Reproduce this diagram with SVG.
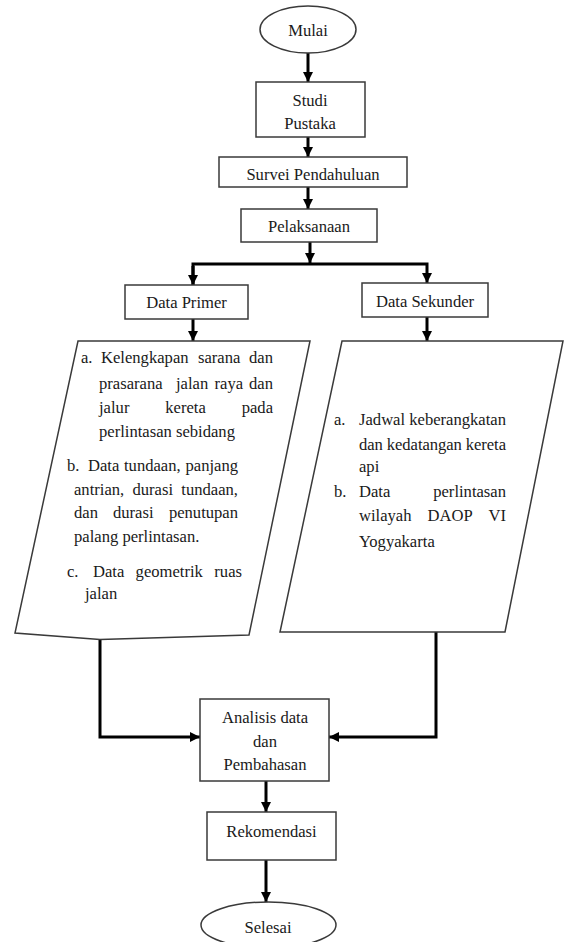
<svg xmlns="http://www.w3.org/2000/svg" width="564" height="942" viewBox="0 0 564 942">
<defs>
<style>
.shape{fill:#fff;stroke:#3a3a3a;stroke-width:1.5}
.t{font-family:'Liberation Serif','Times New Roman',serif;font-size:16.6px;fill:#1a1a1a}
.c{text-anchor:middle}
.e{text-anchor:end}
.conn{fill:none;stroke:#000;stroke-width:3}
</style>
<marker id="ah" viewBox="0 0 10 10" refX="10" refY="5" markerWidth="3.4" markerHeight="3.4" orient="auto" markerUnits="strokeWidth">
<path d="M0,0 L10,5 L0,10 z" fill="#000"/>
</marker>
</defs>
<rect width="564" height="942" fill="#fff"/>

<g id="connectors">
<line class="conn" x1="308" y1="53" x2="308" y2="82" marker-end="url(#ah)"/>
<line class="conn" x1="308" y1="137" x2="308" y2="157" marker-end="url(#ah)"/>
<line class="conn" x1="308" y1="187" x2="308" y2="209" marker-end="url(#ah)"/>
<line class="conn" x1="310" y1="242" x2="310" y2="263" marker-end="url(#ah)"/>
<polyline class="conn" points="193,285 193,264 427,264 427,283" marker-end="url(#ah)"/>
<line class="conn" x1="193" y1="266" x2="193" y2="285" marker-end="url(#ah)"/>
<line class="conn" x1="193" y1="319" x2="193" y2="341" marker-end="url(#ah)"/>
<line class="conn" x1="427" y1="317" x2="427" y2="341" marker-end="url(#ah)"/>
<polyline class="conn" points="100,639 100,737 200,737" marker-end="url(#ah)"/>
<polyline class="conn" points="436,632 436,737 329,737" marker-end="url(#ah)"/>
<line class="conn" x1="266" y1="781" x2="266" y2="812" marker-end="url(#ah)"/>
<line class="conn" x1="266" y1="860" x2="266" y2="902" marker-end="url(#ah)"/>
</g>

<g id="mulai">
<ellipse class="shape" cx="308" cy="29.5" rx="48" ry="23.5"/>
<text class="t c" x="308" y="36">Mulai</text>
</g>

<g id="studi-pustaka">
<rect class="shape" x="256" y="82" width="109" height="55"/>
<text class="t c" x="310" y="106">Studi</text>
<text class="t c" x="310" y="129">Pustaka</text>
</g>

<g id="survei">
<rect class="shape" x="219" y="157" width="188" height="30"/>
<text class="t c" x="313" y="180">Survei Pendahuluan</text>
</g>

<g id="pelaksanaan">
<rect class="shape" x="241" y="209" width="136" height="33"/>
<text class="t c" x="309" y="232">Pelaksanaan</text>
</g>

<g id="data-primer">
<rect class="shape" x="125" y="285" width="123" height="34"/>
<text class="t c" x="186.5" y="308">Data Primer</text>
</g>

<g id="data-sekunder">
<rect class="shape" x="362" y="283" width="126" height="34"/>
<text class="t c" x="425" y="307">Data Sekunder</text>
</g>

<g id="primer-list">
<polygon class="shape" points="78,341 310,341 249,635 100,639.5 15,633"/>
<text class="t" y="363"><tspan x="81">a.</tspan><tspan x="101">Kelengkapan</tspan><tspan x="198">sarana</tspan></text>
<text class="t e" x="273" y="363">dan</text>
<text class="t" y="389"><tspan x="99">prasarana</tspan><tspan x="176">jalan</tspan><tspan x="214.5">raya</tspan></text>
<text class="t e" x="273" y="389">dan</text>
<text class="t" y="413"><tspan x="99">jalur</tspan><tspan x="165.3">kereta</tspan></text>
<text class="t e" x="273" y="413">pada</text>
<text class="t" x="99" y="437">perlintasan sebidang</text>
<text class="t" y="471"><tspan x="67">b.</tspan><tspan x="88">Data</tspan><tspan x="124">tundaan,</tspan></text>
<text class="t e" x="238" y="471">panjang</text>
<text class="t" y="495"><tspan x="74">antrian,</tspan><tspan x="132.5">durasi</tspan></text>
<text class="t e" x="238" y="495">tundaan,</text>
<text class="t" y="518"><tspan x="74">dan</tspan><tspan x="113">durasi</tspan></text>
<text class="t e" x="238" y="518">penutupan</text>
<text class="t" x="74" y="542">palang perlintasan.</text>
<text class="t" y="577"><tspan x="67">c.</tspan><tspan x="93">Data</tspan><tspan x="135.6">geometrik</tspan></text>
<text class="t e" x="242" y="577">ruas</text>
<text class="t" x="85" y="599">jalan</text>
</g>

<g id="sekunder-list">
<polygon class="shape" points="342,341 563,341 505,632 280,632"/>
<text class="t" x="334" y="425">a.</text>
<text class="t" x="359" y="425" textLength="147" lengthAdjust="spacing">Jadwal keberangkatan</text>
<text class="t" x="359" y="450" textLength="147" lengthAdjust="spacing">dan kedatangan kereta</text>
<text class="t" x="359" y="472">api</text>
<text class="t" x="334" y="497">b.</text>
<text class="t" x="359" y="497">Data</text>
<text class="t e" x="506" y="497">perlintasan</text>
<text class="t" y="521"><tspan x="359">wilayah</tspan><tspan x="427.5">DAOP</tspan></text>
<text class="t e" x="506" y="521">VI</text>
<text class="t" x="359" y="547">Yogyakarta</text>
</g>

<g id="analisis">
<rect class="shape" x="200" y="699" width="129" height="82"/>
<text class="t c" x="265" y="723">Analisis data</text>
<text class="t c" x="265" y="747">dan</text>
<text class="t c" x="265" y="770">Pembahasan</text>
</g>

<g id="rekomendasi">
<rect class="shape" x="207" y="812" width="129" height="48"/>
<text class="t c" x="271.5" y="837">Rekomendasi</text>
</g>

<g id="selesai">
<ellipse class="shape" cx="268.5" cy="925" rx="67.5" ry="23"/>
<text class="t c" x="268" y="933">Selesai</text>
</g>
</svg>
